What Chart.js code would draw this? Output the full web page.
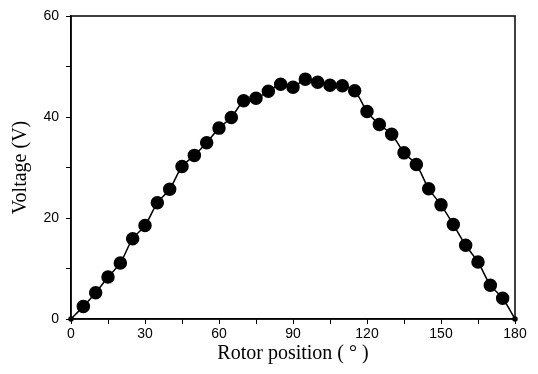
<!DOCTYPE html>
<html>
<head>
<meta charset="utf-8">
<script src="https://cdn.jsdelivr.net/npm/chart.js@4"></script>
<style>
  html, body { margin: 0; padding: 0; background: #fff; }
  #wrap { width: 538px; height: 374px; position: relative; }
</style>
</head>
<body>
<div id="wrap"><canvas id="voltageChart"></canvas></div>
<script>
// rotor position (deg) and measured voltage (V)
const positions = [0, 5, 10, 15, 20, 25, 30, 35, 40, 45, 50, 55, 60, 65, 70, 75, 80, 85, 90,
    95, 100, 105, 110, 115, 120, 125, 130, 135, 140, 145, 150, 155, 160, 165, 170, 175, 180];
const voltages = [0, 2.5, 5.2, 8.3, 11.1, 15.9, 18.5, 23.0, 25.7, 30.2, 32.4, 34.9, 37.8, 39.9, 43.2, 43.7, 45.1, 46.5, 45.9,
    47.5, 46.9, 46.3, 46.2, 45.2, 41.1, 38.5, 36.6, 32.9, 30.6, 25.8, 22.6, 18.7, 14.6, 11.3, 6.7, 4.1, 0];
const xTickLabels = [0, 30, 60, 90, 120, 150, 180];
const yTickLabels = [0, 20, 40, 60];

const tickFont = { family: 'Liberation Sans, Arial, sans-serif', size: 14 };
const titleFont = { family: 'Liberation Serif, Times New Roman, serif', size: 20 };

// box round the plot area
const frame = {
    id: 'frame',
    afterDraw(chart) {
        const a = chart.chartArea;
        const c = chart.ctx;
        c.save();
        c.strokeStyle = '#000';
        c.lineWidth = 1.5;
        c.strokeRect(a.left, a.top, a.right - a.left, a.bottom - a.top);
        c.restore();
    }
};

new Chart(document.getElementById('voltageChart'), {
    type: 'line',
    data: {
        datasets: [{
            data: positions.map((p, i) => ({ x: p, y: voltages[i] })),
            borderColor: '#000',
            backgroundColor: '#000',
            borderWidth: 1.5,
            tension: 0.3,
            pointRadius: ctx => (ctx.dataIndex === 0 || ctx.dataIndex === positions.length - 1) ? 2 : 6,
            pointBackgroundColor: '#000',
            pointBorderColor: '#000',
            clip: false
        }]
    },
    options: {
        responsive: true,
        maintainAspectRatio: false,
        animation: false,
        layout: { padding: { top: 16, right: 23, left: 0, bottom: 0 } },
        plugins: { legend: { display: false }, tooltip: { enabled: false } },
        scales: {
            x: {
                type: 'linear',
                min: 0,
                max: 180,
                border: { display: true, color: '#000', width: 1.5 },
                grid: { drawOnChartArea: false, drawTicks: true, tickLength: 5, color: '#000', lineWidth: 1 },
                ticks: {
                    stepSize: 15,
                    color: '#000',
                    font: tickFont,
                    padding: 2,
                    maxRotation: 0,
                    callback: v => xTickLabels.includes(v) ? String(v) : ''
                },
                title: {
                    display: true,
                    text: 'Rotor position ( \u00B0 )',
                    color: '#000',
                    font: titleFont,
                    padding: { top: 0, bottom: 8 }
                },
                afterFit: s => { s.height = 55; }
            },
            y: {
                min: 0,
                max: 60,
                border: { display: true, color: '#000', width: 1.5 },
                grid: { drawOnChartArea: false, drawTicks: true, tickLength: 5, color: '#000', lineWidth: 1 },
                ticks: {
                    stepSize: 10,
                    color: '#000',
                    font: tickFont,
                    padding: 7,
                    callback: v => yTickLabels.includes(v) ? String(v) : ''
                },
                title: {
                    display: true,
                    text: 'Voltage (V)',
                    color: '#000',
                    font: titleFont,
                    padding: { top: 9, bottom: 0 }
                },
                afterFit: s => { s.width = 71; }
            }
        }
    },
    plugins: [frame]
});
</script>
</body>
</html>
